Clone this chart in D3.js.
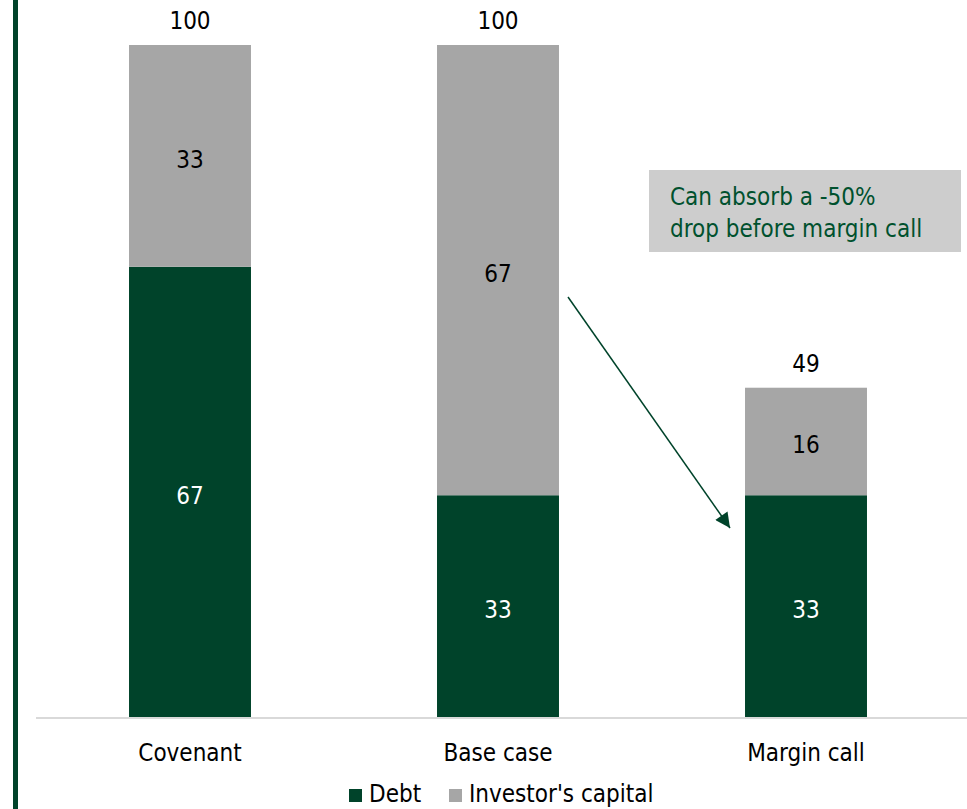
<!DOCTYPE html>
<html><head><meta charset="utf-8">
<script src="https://cdn.jsdelivr.net/npm/d3@7"></script>
<style>body{margin:0;background:#fff}svg{display:block}text{font-family:"DejaVu Sans Condensed","DejaVu Sans",sans-serif}</style>
</head><body>
<script>
const categories = ["Covenant", "Base case", "Margin call"];
const debt = [67, 33, 33];
const investorCapital = [33, 67, 16];
const totals = [100, 100, 49];
const seriesNames = ["Debt", "Investor's capital"];
const annotationLines = ["Can absorb a -50%", "drop before margin call"];

const W = 967, H = 809;
const FS = 24;
const green = "#00432a", gray = "#a6a6a6";
const svg = d3.select("body").append("svg").attr("width", W).attr("height", H);

const x = d3.scaleBand().domain(categories).range([36, 960]).paddingInner(0.604).paddingOuter(0.302);
const y = d3.scaleLinear().domain([0, 100]).range([717, 45]);

// left accent line
svg.append("rect").attr("x", 13).attr("y", 0).attr("width", 5).attr("height", H).attr("fill", green);

const rows = categories.map((c, i) => ({c, d: debt[i], g: investorCapital[i], t: totals[i]}));

// bars
const stack = d3.stack().keys(["d", "g"])(rows);
const colors = [green, gray];
stack.forEach((layer, li) => {
  svg.append("g").selectAll("rect").data(layer).join("rect")
    .attr("x", d => x(d.data.c))
    .attr("width", x.bandwidth())
    .attr("y", d => y(d[1]))
    .attr("height", d => y(d[0]) - y(d[1]))
    .attr("fill", colors[li]);
  svg.append("g").selectAll("text").data(layer).join("text")
    .attr("x", d => x(d.data.c) + x.bandwidth() / 2)
    .attr("y", d => (y(d[0]) + y(d[1])) / 2 + 12)
    .attr("text-anchor", "middle")
    .attr("font-size", FS)
    .attr("fill", li === 0 ? "#fff" : "#000")
    .text(d => d[1] - d[0]);
});

// totals
svg.append("g").selectAll("text").data(rows).join("text")
  .attr("x", d => x(d.c) + x.bandwidth() / 2)
  .attr("y", d => y(d.t) - 16)
  .attr("text-anchor", "middle").attr("font-size", FS).attr("fill", "#000")
  .text(d => d.t);

// axis
const axis = svg.append("g").attr("transform", `translate(0,${y(0)})`)
  .call(d3.axisBottom(x).tickSize(0).tickPadding(27));
axis.select(".domain").attr("stroke", "#d9d9d9").attr("stroke-width", 2).attr("d", "M36,1H967");
axis.selectAll("text").attr("font-size", FS).attr("fill", "#000")
  .style("font-family", '"DejaVu Sans Condensed","DejaVu Sans",sans-serif');

// legend
const legendX = [349, 449];
seriesNames.forEach((n, i) => {
  svg.append("rect").attr("x", legendX[i]).attr("y", 789).attr("width", 13).attr("height", 13).attr("fill", colors[i]);
  svg.append("text").attr("x", legendX[i] + 20).attr("y", 802).attr("font-size", FS).attr("fill", "#000").text(n);
});

// annotation box
svg.append("rect").attr("x", 649).attr("y", 170).attr("width", 312).attr("height", 82).attr("fill", "#cdcdcd");
annotationLines.forEach((t, i) => {
  svg.append("text").attr("x", 670).attr("y", 205 + i * 32).attr("font-size", FS).attr("fill", "#00512e").text(t);
});

// arrow
svg.append("defs").append("marker").attr("id", "ah").attr("viewBox", "0 0 10 10")
  .attr("refX", 10).attr("refY", 5).attr("markerWidth", 20).attr("markerHeight", 15)
  .attr("markerUnits", "userSpaceOnUse").attr("orient", "auto")
  .append("path").attr("d", "M0,0L10,5L0,10z").attr("fill", green);
svg.append("line").attr("x1", 568).attr("y1", 297).attr("x2", 730).attr("y2", 528)
  .attr("stroke", green).attr("stroke-width", 1.5).attr("marker-end", "url(#ah)");
</script>
</body></html>
